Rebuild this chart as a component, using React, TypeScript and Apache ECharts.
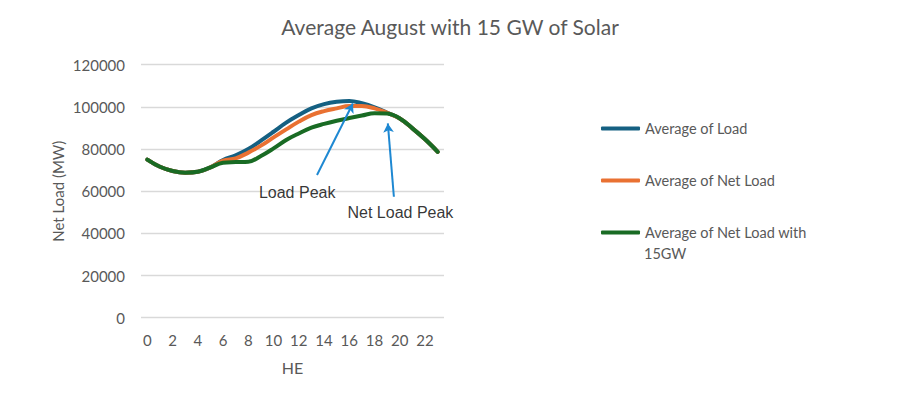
import React, { useEffect, useRef } from "react";
import * as echarts from "echarts";

const hours = Array.from({ length: 24 }, (_, i) => String(i));
const loadValues = [75000, 71600, 69600, 68800, 69200, 71300, 74800, 77000, 80000, 84000, 88200, 92500, 96100, 99300, 101300, 102400, 102800, 101700, 99800, 97200, 94500, 89800, 84600, 78700];
const netLoadValues = [75000, 71600, 69600, 68800, 69200, 71300, 74500, 75600, 78300, 81600, 85500, 89300, 93000, 96100, 98000, 99300, 100400, 100400, 99300, 97200, 94500, 89800, 84600, 78700];
const netLoad15Values = [75000, 71600, 69600, 68800, 69200, 71300, 73500, 73800, 74000, 76700, 80300, 84300, 87400, 90100, 91900, 93400, 94700, 95900, 97000, 96800, 94500, 89800, 84600, 78700];
const seriesNames = ["Average of Load", "Average of Net Load", "Average of Net Load with 15GW"];
const seriesColors = ["#156082", "#E97132", "#196B24"];
const annotationTexts = [
  { name: "Load Peak", value: [11.87, 59600] },
  { name: "Net Load Peak", value: [20.05, 49800] },
];
const arrows = [
  { from: [13.44, 67700], to: [16.28, 101600] },
  { from: [19.53, 57350], to: [19.05, 92140] },
];

export default function App() {
  const ref = useRef<HTMLDivElement>(null);
  useEffect(() => {
    document.body.style.margin = "0";
    const chart = echarts.init(ref.current!, null, { renderer: "svg" });
    const grey = "#595959";
    const lineSeries = [loadValues, netLoadValues, netLoad15Values].map((d, i) => ({
      name: seriesNames[i],
      type: "line",
      data: d,
      smooth: 0.4,
      showSymbol: false,
      symbol: "none",
      color: seriesColors[i],
      lineStyle: { width: 4, color: seriesColors[i], cap: "round" },
      z: 2 + i,
    }));
    chart.setOption({
      animation: false,
      title: {
        text: "Average August with 15 GW of Solar",
        left: "center",
        top: 11,
        textStyle: { fontFamily: "Lato", fontSize: 21, fontWeight: "normal", color: grey },
      },
      legend: {
        orient: "vertical",
        left: 601,
        top: 121,
        padding: 0,
        itemWidth: 39,
        itemHeight: 4,
        itemGap: 37,
        icon: "roundRect",
        data: [seriesNames[0], seriesNames[1], { name: seriesNames[2] }],
        formatter: (n: string) => (n === seriesNames[2] ? "Average of Net Load with" : n),
        textStyle: { fontFamily: "Lato", fontSize: 14.5, color: grey },
      },
      graphic: [
        {
          type: "text",
          left: 644,
          top: 246,
          style: { text: "15GW", fontFamily: "Lato", fontSize: 14.5, fill: grey },
        },
      ],
      grid: { left: 141, right: 456, top: 64.7, bottom: 82.3 },
      xAxis: [
        {
          type: "category",
          data: hours,
          boundaryGap: true,
          name: "HE",
          nameLocation: "middle",
          nameGap: 42,
          nameTextStyle: { fontFamily: "Lato", fontSize: 16, color: grey },
          axisLine: { show: false },
          axisTick: { show: false },
          axisLabel: { interval: 1, margin: 15, fontFamily: "Lato", fontSize: 15, color: grey },
        },
        { type: "value", min: -0.5, max: 23.5, show: false },
      ],
      yAxis: {
        type: "value",
        min: 0,
        max: 120000,
        interval: 20000,
        name: "Net Load (MW)",
        nameLocation: "middle",
        nameGap: 76,
        nameTextStyle: { fontFamily: "Lato", fontSize: 15, color: grey },
        axisLine: { show: false },
        axisTick: { show: false },
        axisLabel: { margin: 16, fontFamily: "Lato", fontSize: 15, color: grey, formatter: (v: number) => String(v) },
        splitLine: { lineStyle: { color: "#d9d9d9", width: 1.3 } },
      },
      series: [
        ...lineSeries,
        {
          name: "annotations",
          type: "scatter",
          xAxisIndex: 1,
          data: annotationTexts,
          symbolSize: 0,
          z: 10,
          label: {
            show: true,
            position: "inside",
            formatter: (p: any) => p.name,
            fontFamily: "Liberation Sans",
            fontSize: 16,
            color: "#000",
          },
          markLine: {
            silent: true,
            symbol: ["none", "arrow"],
            symbolSize: [8, 9],
            label: { show: false },
            lineStyle: { color: "#1E88D2", width: 2, type: "solid" },
            data: arrows.map((a) => [{ coord: a.from }, { coord: a.to }]),
          },
        },
      ],
    });
    return () => chart.dispose();
  }, []);
  return <div ref={ref} style={{ width: 900, height: 400 }} />;
}
